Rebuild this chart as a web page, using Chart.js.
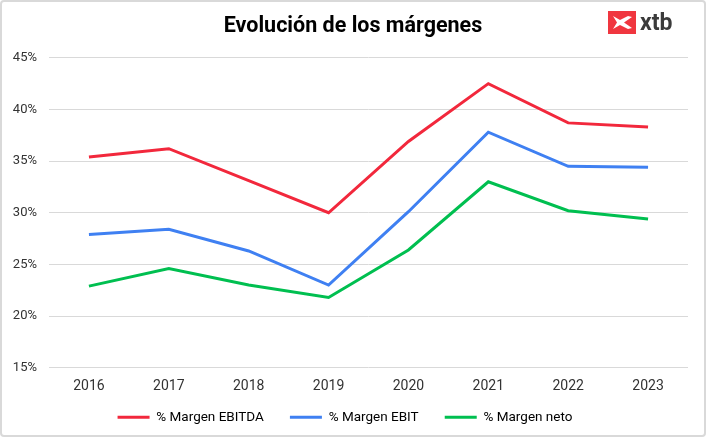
<!DOCTYPE html>
<html>
<head>
<meta charset="utf-8">
<script src="https://cdn.jsdelivr.net/npm/chart.js@4.4.1/dist/chart.umd.min.js"></script>
<style>
  html, body { margin: 0; padding: 0; background: #fff; }
  #wrap {
    position: relative; width: 706px; height: 437px;
    box-sizing: border-box; border: 2px solid #d9d9d9; border-radius: 4px;
    overflow: hidden;
  }
  #chart { position: absolute; left: 0; top: 0; }
  .logo { position: absolute; left: 606px; top: 9px; display: flex; align-items: center; }
  .logo-mark { width: 28px; height: 23px; background: #f0363f; display: block; }
  .logo-text { font-family: Roboto, sans-serif; font-weight: bold; font-size: 23px; color: #3b3b3b; margin-left: 4px; line-height: 23px; }
</style>
</head>
<body>
<div id="wrap">
  <canvas id="chart" width="702" height="433"></canvas>
  <div class="logo">
    <svg class="logo-mark" viewBox="0 0 28 23">
      <rect width="28" height="23" fill="#f0363f"/>
      <path d="M5 5 L12 9 L20 5 L24 6 L16 11.5 L24 17 L20 18 L12 14 L5 18 L9 11.5 Z" fill="#fff"/>
    </svg>
    <span class="logo-text">xtb</span>
  </div>
</div>
<script>
// Data
const years = ['2016', '2017', '2018', '2019', '2020', '2021', '2022', '2023'];
const margenEbitda = [35.4, 36.2, 33.1, 30.0, 36.9, 42.5, 38.7, 38.3];
const margenEbit = [27.9, 28.4, 26.3, 23.0, 30.1, 37.8, 34.5, 34.4];
const margenNeto = [22.9, 24.6, 23.0, 21.8, 26.4, 33.0, 30.2, 29.4];

const seriesNames = ['% Margen EBITDA', '% Margen EBIT', '% Margen neto'];
const seriesColors = ['#f2283c', '#3f80f2', '#00bf50'];

Chart.defaults.font.family = 'Roboto, sans-serif';
Chart.defaults.color = '#333333';

// title sits a bit right of the full-width centre in the reference
const shiftTitle = {
  id: 'shiftTitle',
  afterLayout(chart) {
    if (chart.titleBlock) chart.titleBlock.left += 16;
  }
};

const ctx = document.getElementById('chart');
new Chart(ctx, {
  type: 'line',
  data: {
    labels: years,
    datasets: [margenEbitda, margenEbit, margenNeto].map((d, i) => ({
      label: seriesNames[i],
      data: d,
      borderColor: seriesColors[i],
      backgroundColor: seriesColors[i],
      borderWidth: 3,
      pointRadius: 0,
      tension: 0,
      fill: false,
    }))
  },
  plugins: [shiftTitle],
  options: {
    responsive: false,
    animation: false,
    layout: { padding: { top: 0, right: 16, bottom: 1, left: 0 } },
    plugins: {
      title: {
        display: true,
        text: 'Evolución de los márgenes',
        color: '#000',
        font: { size: 21.5, weight: 'bold' },
        padding: { top: 12, bottom: 18 }
      },
      legend: {
        position: 'bottom',
        labels: {
          boxWidth: 32,
          boxHeight: 3,
          padding: 6,
          font: { size: 13.5 },
          color: '#222',
          // trailing spaces give the wider gap between legend items
          generateLabels: chart => chart.data.datasets.map((ds, i) => ({
            text: i < chart.data.datasets.length - 1 ? ds.label + '      ' : ds.label,
            fillStyle: ds.borderColor,
            strokeStyle: ds.borderColor,
            lineWidth: 0,
            datasetIndex: i,
            hidden: false
          }))
        }
      },
      tooltip: { enabled: false }
    },
    scales: {
      x: {
        offset: true,
        grid: { display: false, drawTicks: false },
        border: { display: false },
        ticks: { padding: 10, font: { size: 14 }, color: '#333' }
      },
      y: {
        min: 15,
        max: 45,
        ticks: {
          stepSize: 5,
          padding: 12,
          font: { size: 13 },
          color: '#333',
          callback: v => v + '%'
        },
        grid: { color: '#d9d9d9', lineWidth: 1, drawTicks: false },
        border: { display: false },
        afterFit: axis => { axis.width = 47; }
      }
    }
  }
});
</script>
</body>
</html>
